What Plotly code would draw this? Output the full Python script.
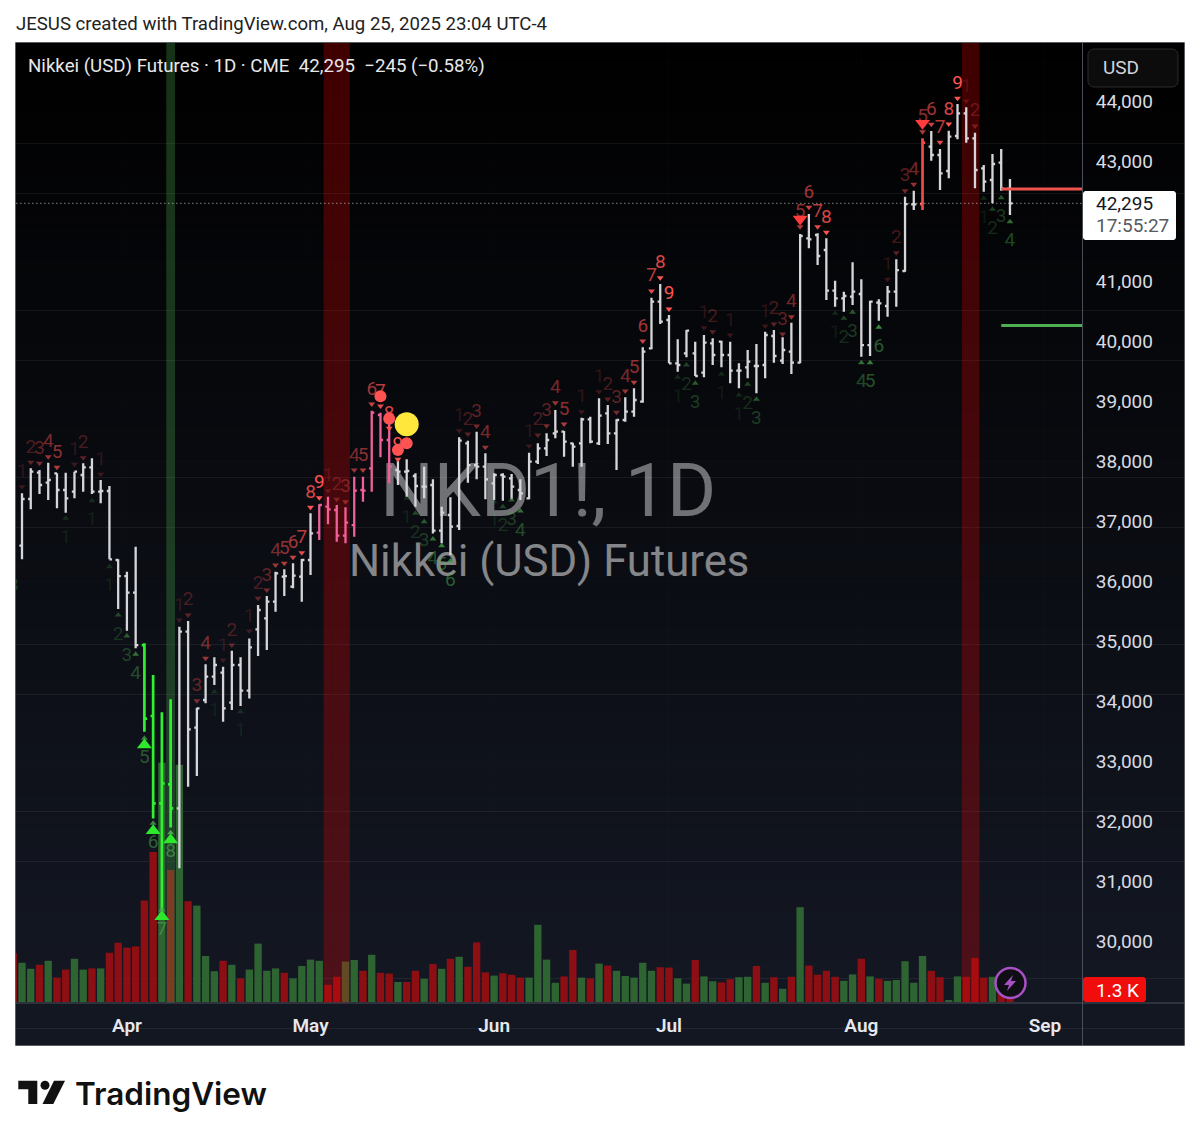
import math
import plotly.graph_objects as go

# ---------- data ----------
BAR_INDEX = list(range(0, 114))
OPEN = [36589,37367,37806,37639,37795,37517,37489,37767,37895,37489,37500,36350,36083,35806,34933,33750,32294,32611,32211,35156,
        33555,34017,34405,34472,33972,34600,34172,35195,35378,35656,36072,35906,36072,36350,36806,37239,37184,36756,36933,37517,
        37878,38767,38350,37850,37822,37750,37572,37600,36839,37100,36917,38295,37933,37906,37628,37767,37711,37517,37378,37989,
        38211,38461,38489,38295,38295,38695,38295,38795,38461,38684,38822,38989,39878,40656,40350,39628,39795,39795,39472,39961,
        39989,39767,39506,39561,39584,39600,40084,39672,39822,39639,41711,41767,41517,40839,40711,40739,40784,39933,40639,40584,
        40822,41167,42278,42283,43239,43100,42834,43417,43795,43378,42878,42684,42972,42540]
HIGH = [37461,37878,37850,37973,37795,37806,37823,37961,38045,37684,37584,36361,36156,36572,34961,34433,33811,34028,35239,35333,
        33889,34611,34728,34572,34839,34728,35044,35600,35750,36156,36195,36295,36367,37128,37278,37406,37267,37228,37739,37739,
        38839,38806,38684,38017,38028,37795,37906,37695,37239,37395,38395,38339,38489,38128,37795,37795,37784,37695,38139,38295,
        38461,38850,38500,38306,38722,38739,39045,38934,38695,39061,39211,39895,40722,40950,40434,40028,40184,39989,40100,40045,
        40006,39989,39628,39850,39950,40156,40184,40061,40306,41784,42117,41795,41711,41006,40822,41311,41028,40672,40695,40917,
        41361,42406,42506,43378,43500,43200,43506,43950,43895,43472,42933,43117,43200,42700]
LOW = [36361,37195,37450,37350,37211,37139,37378,37489,37450,37295,36361,35533,35172,34878,33489,32044,30516,31894,31211,32572,
       32750,33961,34267,33655,33850,33917,34044,34750,34850,35489,35750,35878,35656,36100,36683,36945,36656,36628,36739,37322,
       37489,38061,37628,37600,37406,37239,37378,36794,36628,36433,36850,37639,37695,37361,37350,37339,37361,37350,37361,37950,
       38084,38378,38072,37906,37906,38295,38267,38284,37850,38656,38739,38972,39861,40284,39628,39489,39728,39417,39395,39600,
       39561,39295,39211,39378,39128,39378,39639,39617,39450,39628,41545,41267,40684,40572,40489,40600,39739,39750,40339,40406,
       40572,41156,42184,42184,43006,42517,42711,43361,43306,42545,42489,42295,42506,42100]
CLOSE = [37367,37823,37600,37684,37517,37378,37823,37895,37489,37500,36361,36083,35806,34933,33705,32294,32628,32211,35156,33528,
         33878,34405,34600,33878,34600,34172,34894,35517,35656,36128,36083,36089,36350,36795,37267,37195,36756,36972,37506,37506,
         38806,38350,37906,37822,37834,37584,37572,36839,37139,36906,38339,37933,37906,37695,37767,37739,37572,37461,37989,38211,
         38350,38489,38322,38239,38695,38322,38756,38461,38684,38822,39017,39822,40656,40322,39628,39600,40172,39417,39972,39767,
         39767,39506,39506,39656,39584,40100,39750,39850,39639,41750,41695,41417,40839,40711,40750,40822,39933,40656,40628,40822,
         41183,42283,42278,43306,43100,42795,43406,43795,43378,42850,42656,42950,42540,42295]
GREEN_BARS = [14, 15, 16, 17]
PINK_BARS = [34, 35, 36, 37, 38, 39, 40, 41, 42]
RED_BARS = [103]

VOL_INDEX = list(range(-1, 114))
VOLUME_K = [12.2,9.8,8.3,9.3,10.3,6.1,8.1,10.8,8.1,8.4,8.4,12.3,14.8,13.6,13.9,25.4,37.5,59.8,33,59.3,
            25.2,24.1,11.5,7.7,10.3,9.3,5.9,8.1,14.6,7.8,8.4,7.3,5.9,9,10.6,10.3,4.3,6.3,10.1,10.5,
            7.8,11.8,7.3,7.1,5,5,7.8,5.8,9.5,8.3,10.8,11.3,8.8,14.9,7.4,6.6,7.2,6.8,6.1,6.1,
            19.3,10.6,4.8,6.4,13,6.1,5.9,9.6,9.1,7.8,6.5,6.1,9.8,7.8,8.7,8.6,5.9,4.6,10.5,6.4,
            5.2,4.9,5.7,6.2,6.3,9,4.8,6.2,3.3,6.3,23.7,9.1,6.8,7.8,6.3,5.3,6.9,10.8,6.4,5.8,
            5.3,5.5,10.2,4.8,11.5,7.8,6.2,0.3,6.4,6.3,11,6.1,6.3,2.7,1.3]
VOL_DIR = ("r" "ggrgrrggrg" "rrrrrrgrgr" "gggrgrgggg" "rggggrrggr" "grrgrrgrgr" "grrrgrrrgg"
           "ggrrgrgrgg" "gggrrggrgg" "rrggrgrgrg" "rrrrggrgrg" "ggggrrggrr" "rgrr")

SELL_I = [0,1,2,3,4,6,7,9,18,19,20,21,23,24,26,27,28,29,30,31,32,33,34,35,36,37,38,39,40,41,42,43,50,51,52,53,58,59,60,61,62,
          64,66,67,68,69,70,71,72,73,74,78,79,81,85,86,87,88,89,90,91,92,99,100,101,102,103,104,105,106,107,108,109]
SELL_N = [1,2,3,4,5,1,2,1,1,2,3,4,1,2,1,2,3,4,5,6,7,8,9,1,2,3,4,5,6,7,8,9,1,2,3,4,1,2,3,4,5,
          1,1,2,3,4,5,6,7,8,9,1,2,1,1,2,3,4,5,6,7,8,1,2,3,4,5,6,7,8,9,1,2]
SELL_Y = [37572,37978,37961,38073,37895,37945,38056,37778,35350,35434,34006,34711,34683,34933,35167,35711,35850,36267,36295,36395,36472,37228,
          37389,37506,37361,37322,37850,37850,38950,38917,38545,38028,38506,38450,38583,38228,38250,38434,38589,38973,38617,
          38822,39156,39033,38811,39167,39311,40000,40834,41056,40534,40222,40156,40100,40250,40284,40117,40406,
          41906,42228,41906,41811,41028,41472,42506,42611,43489,43611,43311,43617,44045,44000,43584]

BUY_I = [-1,5,8,10,11,12,13,14,15,16,17,22,25,44,45,46,47,48,49,54,55,56,57,75,76,77,80,82,83,84,93,94,95,96,97,98,110,111,112,113]
BUY_N = [3,1,1,1,2,3,4,5,6,7,8,1,1,1,2,3,4,5,6,1,2,3,4,1,2,3,1,1,2,3,1,2,3,4,5,6,1,2,3,4]
BUY_Y = [36239,37045,37339,36239,35434,35084,34778,33378,31961,30516,31805,34155,33822,37378,37128,36989,36700,36589,36333,37322,37239,37350,37167,
         39395,39600,39295,39450,39100,39278,39028,40461,40378,40478,39639,39639,40228,42378,42195,42389,41989]

BIG_SELL_I = [89, 103]
BIG_SELL_Y = [42033, 43628]
BIG_BUY_I = [14, 15, 16, 17]
BIG_BUY_Y = [33267, 31839, 30405, 31683]

DOT_I = [41, 42, 43, 44]
DOT_Y = [39078, 38705, 38183, 38295]
YELLOW_I = [44]
YELLOW_Y = [38612]

LAST_PRICE = 42295
RED_LEVEL = 42533
GREEN_LEVEL = 40258
LEVEL_START = 112

GREEN_BAND = [17]
RED_BANDS = [35, 36, 37, 108, 109]

MONTH_TICKS = [12, 33, 54, 74, 96, 117]
MONTH_LABELS = ["Apr", "May", "Jun", "Jul", "Aug", "Sep"]
PRICE_TICKS = list(range(30000, 45000, 1000))
PRICE_LABELS = [f"{v:,}" for v in PRICE_TICKS]

# ---------- helpers ----------
W, H = 1200, 1140
def px(x): return x / W
def py(y): return 1 - y / H

FONT = "Roboto"
X_RANGE = [-0.686, 121.24]
VOL_RANGE = [-0.25, 239.75]
PRICE_RANGE = [28967, 44967]

ALPHA_S = {1: .17, 2: .27, 3: .36, 4: .46, 5: .54, 6: .63, 7: .72, 8: .86, 9: 1.0}
ALPHA_B = {1: .13, 2: .24, 3: .32, 4: .40, 5: .46, 6: .50, 7: .55, 8: .62, 9: .7}
def sell_c(n, k=1.0): return f"rgba(255,82,82,{min(1, ALPHA_S[n] * k):.2f})"
def buy_c(n, k=1.0): return f"rgba(76,175,80,{min(1, ALPHA_B[n] * k):.2f})"

fig = go.Figure()

# volume and bands on the primary (lower) subplot
fig.add_trace(go.Bar(x=VOL_INDEX, y=VOLUME_K, width=0.84,
                     marker=dict(color=["#8e0f13" if d == "r" else "#2e6332" for d in VOL_DIR], line_width=0),
                     yaxis="y", xaxis="x", hoverinfo="skip"))
fig.add_trace(go.Bar(x=RED_BANDS, y=[VOL_RANGE[1] - VOL_RANGE[0]] * len(RED_BANDS), base=VOL_RANGE[0], width=1.0,
                     marker=dict(color="rgba(255,0,0,0.25)", line_width=0), yaxis="y", hoverinfo="skip"))
fig.add_trace(go.Bar(x=GREEN_BAND, y=[VOL_RANGE[1] - VOL_RANGE[0]], base=VOL_RANGE[0], width=1.0,
                     marker=dict(color="rgba(76,175,80,0.29)", line_width=0), yaxis="y", hoverinfo="skip"))

# watermark, below the price layer
fig.add_trace(go.Scatter(x=[60.2], y=[126.2], mode="text", text=["NKD1!, 1D"], yaxis="y", hoverinfo="skip",
                         textfont=dict(family=FONT, size=75, color="rgba(255,255,255,0.42)")))
fig.add_trace(go.Scatter(x=[60.3], y=[109.3], mode="text", text=["Nikkei (USD) Futures"], yaxis="y", hoverinfo="skip",
                         textfont=dict(family=FONT, size=43.7, color="rgba(255,255,255,0.5)")))

# price bars
def ohlc_group(idx, color, width=2.3):
    fig.add_trace(go.Ohlc(x=[BAR_INDEX[i] for i in idx], open=[OPEN[i] for i in idx], high=[HIGH[i] for i in idx],
                          low=[LOW[i] for i in idx], close=[CLOSE[i] for i in idx], yaxis="y2", xaxis="x", tickwidth=0.3,
                          increasing=dict(line=dict(color=color, width=width)),
                          decreasing=dict(line=dict(color=color, width=width)), hoverinfo="skip"))
special = set(GREEN_BARS + PINK_BARS + RED_BARS)
ohlc_group([i for i in BAR_INDEX if i not in special], "#d6d6da")
ohlc_group(GREEN_BARS, "#30f030", 2.7)
ohlc_group(PINK_BARS, "#f0609a")
ohlc_group(RED_BARS, "#f04a4a", 2.7)

# levels
fig.add_trace(go.Scatter(x=X_RANGE, y=[LAST_PRICE, LAST_PRICE], mode="lines", yaxis="y2", hoverinfo="skip",
                         line=dict(color="rgba(255,255,255,0.5)", width=1, dash="1.5px,2.5px")))
fig.add_trace(go.Scatter(x=[LEVEL_START, X_RANGE[1]], y=[RED_LEVEL, RED_LEVEL], mode="lines", yaxis="y2", hoverinfo="skip",
                         line=dict(color="#ef5350", width=3)))
fig.add_trace(go.Scatter(x=[LEVEL_START, X_RANGE[1]], y=[GREEN_LEVEL, GREEN_LEVEL], mode="lines", yaxis="y2", hoverinfo="skip",
                         line=dict(color="#4caf50", width=3)))

# sequence counts
fig.add_trace(go.Scatter(x=SELL_I, y=SELL_Y, mode="markers+text", yaxis="y2", hoverinfo="skip",
                         text=[str(n) for n in SELL_N], textposition="top center",
                         textfont=dict(family=FONT, size=19, color=[sell_c(n) for n in SELL_N]),
                         marker=dict(symbol="triangle-down", size=6, color=[sell_c(n, 1.25) for n in SELL_N], line_width=0)))
fig.add_trace(go.Scatter(x=BUY_I, y=BUY_Y, mode="markers", yaxis="y2", hoverinfo="skip",
                         marker=dict(symbol="triangle-up", size=6, color=[buy_c(n, 1.5) for n in BUY_N], line_width=0)))
fig.add_trace(go.Scatter(x=BUY_I, y=BUY_Y, mode="markers+text", yaxis="y2", hoverinfo="skip",
                         text=[str(n) for n in BUY_N], textposition="bottom center",
                         textfont=dict(family=FONT, size=19, color=[buy_c(n) for n in BUY_N]),
                         marker=dict(size=15, color="rgba(0,0,0,0)", line_width=0)))
fig.add_trace(go.Scatter(x=BIG_SELL_I, y=BIG_SELL_Y, mode="markers", yaxis="y2", hoverinfo="skip",
                         marker=dict(symbol="triangle-down", size=13, color="#ff3b3b", line_width=0)))
fig.add_trace(go.Scatter(x=BIG_BUY_I, y=BIG_BUY_Y, mode="markers", yaxis="y2", hoverinfo="skip",
                         marker=dict(symbol="triangle-up", size=13, color="#2ee82e", line_width=0)))
fig.add_trace(go.Scatter(x=DOT_I, y=DOT_Y, mode="markers", yaxis="y2", hoverinfo="skip",
                         marker=dict(symbol="circle", size=12, color="#ff5252", line_width=0)))
fig.add_trace(go.Scatter(x=YELLOW_I, y=YELLOW_Y, mode="markers", yaxis="y2", hoverinfo="skip",
                         marker=dict(symbol="circle", size=24, color="#ffe83b", line_width=0)))

# ---------- chrome ----------
shapes = []
def rect(x0, y0, x1, y1, fill, layer="below", line=None):
    shapes.append(dict(type="rect", xref="paper", yref="paper", x0=px(x0), x1=px(x1), y0=py(y0), y1=py(y1),
                       fillcolor=fill, layer=layer, line=line or dict(width=0)))
def poly(points, fill, layer="above", line=None):
    d = "M" + " L".join(f"{px(a):.5f},{py(b):.5f}" for a, b in points) + " Z"
    shapes.append(dict(type="path", xref="paper", yref="paper", path=d, fillcolor=fill, layer=layer, line=line or dict(width=0)))
def rounded(x0, y0, x1, y1, r, fill, line=None):
    pts = []
    for cx, cy, a0 in [(x1 - r, y0 + r, -90), (x1 - r, y1 - r, 0), (x0 + r, y1 - r, 90), (x0 + r, y0 + r, 180)]:
        for k in range(7):
            t = math.radians(a0 + 15 * k)
            pts.append((cx + r * math.cos(t), cy + r * math.sin(t)))
    poly(pts, fill, line=line)

# vertical background gradient: black at top to navy at bottom
N = 60
top, bottom = (0, 0, 0), (19, 23, 34)
for k in range(N):
    y0 = 43 + (1045 - 43) * k / N
    y1 = 43 + (1045 - 43) * (k + 1) / N + 0.5
    t = min(1, (k + 0.5) / N / 0.93)
    c = tuple(round(a + (b - a) * t) for a, b in zip(top, bottom))
    rect(16, y0, 1184, y1, f"rgb{c}")

LINE = "#4a4e58"
# frame and separators
shapes.append(dict(type="rect", xref="paper", yref="paper", x0=px(15.5), x1=px(1184.5), y0=py(42.5), y1=py(1045.5),
                   line=dict(color="#5a5d64", width=1), layer="above"))
shapes.append(dict(type="line", xref="paper", yref="paper", x0=px(1082.5), x1=px(1082.5), y0=py(43), y1=py(1045),
                   line=dict(color=LINE, width=1), layer="above"))
shapes.append(dict(type="line", xref="paper", yref="paper", x0=px(16), x1=px(1184), y0=py(1003), y1=py(1003),
                   line=dict(color=LINE, width=1), layer="above"))
# USD button
rounded(1088, 49, 1178, 87, 6, "#0c0c0c", line=dict(color="#2c2c2c", width=1))
# last price tag
rounded(1083, 191, 1176, 240, 3, "#ffffff")
# volume tag
rounded(1083, 977, 1146, 1002, 3, "#f20d0d")
# lightning badge
shapes.append(dict(type="circle", xref="paper", yref="paper", x0=px(995.5), x1=px(1025.5), y0=py(968), y1=py(998),
                   fillcolor="#0f0e14", line=dict(color="#a651c4", width=2.5), layer="above"))
poly([(1013, 975), (1004, 985), (1009, 985), (1007, 991), (1016, 981), (1011, 981)], "#a651c4")
# logo
poly([(18.3, 1080.7), (37.3, 1080.7), (37.3, 1104), (28.3, 1104), (28.3, 1089.3), (18.3, 1089.3)], "#111111")
shapes.append(dict(type="circle", xref="paper", yref="paper", x0=px(40.5), x1=px(49.5), y0=py(1080.8), y1=py(1089.8),
                   fillcolor="#111111", line=dict(width=0), layer="above"))
poly([(54, 1080.7), (65, 1080.7), (53.3, 1104), (42.5, 1104)], "#111111")

def note(text, x, y, size, color, anchor="left", weight=None, family=FONT):
    return dict(text=text, xref="paper", yref="paper", x=px(x), y=py(y), xanchor=anchor, yanchor="middle",
                showarrow=False, font=dict(family=family, size=size, color=color, weight=weight), align="left")

annotations = [
    note("JESUS created with TradingView.com, Aug 25, 2025 23:04 UTC-4", 14, 24, 18.6, "#222222"),
    note("Nikkei (USD) Futures · 1D · CME  42,295  −245 (−0.58%)", 26, 66, 18.7, "#e8e8ea"),
    note("USD", 1101, 68, 19, "#d1d4dc"),
    note("42,295", 1094, 203, 19, "#131722"),
    note("17:55:27", 1094, 225, 19, "#555a63"),
    note("1.3 K", 1094, 990, 19, "#ffffff"),
    note("TradingView", 73, 1093, 31.5, "#111111", weight=600, family="Inter"),
]

fig.update_layout(
    width=W, height=H, margin=dict(l=0, r=0, t=0, b=0), autosize=False,
    paper_bgcolor="#ffffff", plot_bgcolor="rgba(0,0,0,0)", showlegend=False, barmode="overlay",
    hovermode=False, dragmode=False, shapes=shapes, annotations=annotations,
    xaxis=dict(domain=[px(16), px(1082)], range=X_RANGE, rangeslider=dict(visible=False), fixedrange=True,
               tickmode="array", tickvals=MONTH_TICKS, ticktext=MONTH_LABELS, showgrid=True,
               gridcolor="rgba(255,255,255,0.012)", zeroline=False, showline=False,
               ticks="outside", ticklen=5, tickcolor="rgba(0,0,0,0)",
               tickfont=dict(family=FONT, size=19, color="#e6e8ee", weight=600)),
    yaxis=dict(domain=[py(1003), py(43)], range=VOL_RANGE, visible=False, fixedrange=True, showgrid=False),
    yaxis2=dict(overlaying="y", side="right", anchor="x", range=PRICE_RANGE, fixedrange=True, tickmode="array",
                tickvals=PRICE_TICKS, ticktext=PRICE_LABELS, showgrid=True, gridcolor="rgba(255,255,255,0.012)",
                zeroline=False, showline=False, ticks="outside", ticklen=9, tickcolor="rgba(0,0,0,0)",
                tickfont=dict(family=FONT, size=19, color="#d8dbe2")),
)

fig.write_html("out.html", post_script="document.body.style.margin='0';", config={"displayModeBar": False})
